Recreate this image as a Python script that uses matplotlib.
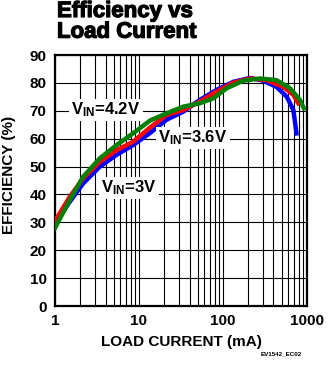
import matplotlib
matplotlib.use("Agg")
import matplotlib.pyplot as plt
import matplotlib.patheffects as pe
from matplotlib.ticker import LogLocator, FixedLocator, NullFormatter

plt.rcParams['font.family'] = ['Liberation Sans', 'DejaVu Sans']
plt.rcParams['mathtext.default'] = 'regular'

# efficiency curves, load current in mA
i_3v0 = [1.0, 1.5, 2.17, 3.43, 5.4, 8.5, 13.5, 21.3, 33.7, 53, 84, 133, 210, 302, 434, 574, 690, 752]
eff_3v0 = [29.5, 37.4, 44.0, 50.0, 54.2, 57.7, 62.0, 66.8, 69.7, 73.9, 77.5, 80.4, 81.8, 80.8, 78.6, 75.1, 70.3, 61.9]

i_3v6 = [1.0, 1.5, 2.17, 3.43, 5.4, 8.5, 13.5, 21.3, 33.7, 53, 84, 133, 210, 331, 523, 690, 790]
eff_3v6 = [30.5, 39.2, 45.8, 51.7, 55.9, 58.9, 64.0, 68.5, 70.3, 73.3, 76.9, 80.1, 81.6, 81.0, 78.6, 75.7, 72.7]

i_4v2 = [1.0, 1.5, 2.17, 3.43, 5.4, 8.5, 13.5, 21.3, 33.7, 53, 77, 111, 174, 275, 434, 630, 826, 920]
eff_4v2 = [28.0, 38.0, 46.4, 53.0, 57.7, 61.9, 66.5, 69.1, 71.5, 72.7, 74.5, 78.1, 80.8, 81.6, 81.0, 78.1, 73.9, 70.9]

y_ticks = [0, 10, 20, 30, 40, 50, 60, 70, 80, 90]
x_ticks = [1, 10, 100, 1000]

fig = plt.figure(figsize=(3.3, 3.72), dpi=100)
ax = fig.add_axes([0.1667, 0.1774, 0.7633, 0.6746])

ax.plot(i_3v0, eff_3v0, color='#0000ff', lw=3.2, zorder=3)
ax.plot(i_3v6, eff_3v6, color='#ff0000', lw=3.2, zorder=4)
ax.plot(i_4v2, eff_4v2, color='#008000', lw=3.2, zorder=5)

ax.set_xscale('log')
ax.set_xlim(1, 1000)
ax.set_ylim(0, 90)
ax.xaxis.set_major_locator(FixedLocator(x_ticks))
ax.xaxis.set_minor_locator(LogLocator(base=10, subs=range(2, 10)))
ax.xaxis.set_minor_formatter(NullFormatter())
ax.set_xticklabels([str(t) for t in x_ticks])
ax.yaxis.set_major_locator(FixedLocator(y_ticks))
ax.grid(True, which='both', axis='x', color='black', lw=0.8)
ax.grid(True, which='major', axis='y', color='black', lw=0.8)
ax.tick_params(which='both', length=0, labelsize=11, pad=6)
for lab in ax.get_xticklabels() + ax.get_yticklabels():
    lab.set_fontweight('bold')
for sp in ax.spines.values():
    sp.set_linewidth(1.6)

ax.set_xlabel('LOAD CURRENT (mA)', fontsize=11, fontweight='bold', labelpad=5)
fig.text(9 / 330, 1 - 175 / 372, 'EFFICIENCY (%)', fontsize=11, fontweight='bold',
         rotation=90, ha='center', va='center')

box = dict(facecolor='white', edgecolor='none', pad=1.5)
ax.text(4.05, 70.3, 'V$_{IN}$=4.2V', fontsize=12, fontweight='bold', ha='center', va='center', bbox=box, zorder=6)
ax.text(44, 60.3, 'V$_{IN}$=3.6V', fontsize=12, fontweight='bold', ha='center', va='center', bbox=box, zorder=6)
ax.text(7.6, 42.3, 'V$_{IN}$=3V', fontsize=12, fontweight='bold', ha='center', va='center', bbox=box, zorder=6)

fig.text(57 / 330, 1 - 1 / 372, 'Efficiency vs\nLoad Current', fontsize=16, fontweight='bold',
         ha='left', va='top', linespacing=0.98,
         path_effects=[pe.withStroke(linewidth=0.9, foreground='black')])
fig.text(302 / 330, 1 - 354 / 372, 'EV1542_EC02', fontsize=4.5, fontweight='bold', ha='right', va='center')

fig.savefig('out.png', dpi=100)
